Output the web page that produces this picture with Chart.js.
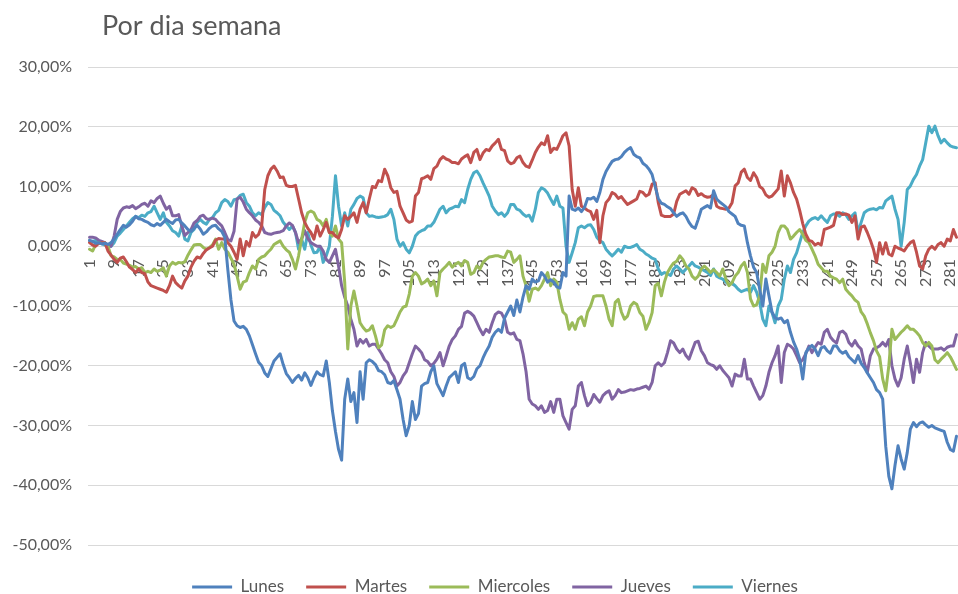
<!DOCTYPE html>
<html>
<head>
<meta charset="utf-8">
<script src="https://cdn.jsdelivr.net/npm/chart.js@4.4.0/dist/chart.umd.min.js"></script>
<style>
html,body{margin:0;padding:0;background:#ffffff;}
#wrap{width:958px;height:594px;position:relative;}
</style>
</head>
<body>
<div id="wrap"><canvas id="c" width="958" height="594"></canvas></div>
<script>
const titleText = 'Por dia semana';
const seriesNames = ['Lunes', 'Martes', 'Miercoles', 'Jueves', 'Viernes'];
const seriesColors = ['#4F81BD', '#C0504D', '#9BBB59', '#8064A2', '#4BACC6'];

const lunes = [
1.0, 0.8, 0.5, 0.6, 0.4, 0.5, 0.3, 0.6, 1.2, 2.0,
2.8, 3.5, 3.2, 3.6, 4.2, 5.0, 4.6, 4.5, 4.2, 4.0,
3.6, 3.4, 3.8, 3.5, 4.0, 4.5, 4.1, 3.8, 4.4, 4.5,
3.9, 3.4, 2.8, 2.5, 3.0, 3.5, 2.9, 2.0, 2.4, 3.0,
3.4, 3.5, 2.9, 2.5, 1.5, -4.0, -9.0, -12.5, -13.3, -13.6,
-13.4, -13.9, -15.0, -16.5, -18.0, -19.4, -20.0, -21.2, -21.8, -20.5,
-19.2, -18.6, -18.0, -19.8, -21.3, -22.0, -22.8, -22.1, -21.6, -22.4,
-21.2, -22.0, -23.3, -22.0, -21.0, -21.5, -21.7, -19.2, -22.8, -27.5,
-31.0, -34.0, -35.8, -25.6, -22.2, -26.0, -24.5, -29.5, -21.0, -25.6,
-19.5, -19.0, -19.3, -19.8, -20.8, -21.0, -21.5, -22.8, -23.0, -22.5,
-24.0, -25.6, -29.0, -31.7, -30.0, -26.0, -29.0, -28.0, -23.4, -23.0,
-22.8, -21.0, -20.0, -23.0, -24.0, -25.0, -23.4, -22.0, -21.5, -21.0,
-22.8, -20.0, -19.6, -22.0, -22.3, -21.8, -20.5, -20.0, -18.7, -17.6,
-16.7, -15.2, -14.4, -13.9, -14.4, -12.0, -11.0, -10.0, -11.6, -9.0,
-11.0, -8.5, -6.6, -7.2, -5.5, -6.0, -5.8, -4.4, -5.0, -6.0,
-5.6, -6.0, -6.8, -7.0, -4.4, -5.0, 8.4, 6.2, 6.0, 6.4,
5.8, 6.5, 8.0, 7.9, 8.2, 7.5, 9.0, 11.2, 12.5, 13.4,
14.2, 14.5, 14.6, 15.0, 15.7, 16.2, 16.5, 15.4, 15.0, 14.8,
13.9, 13.5, 12.9, 12.0, 10.0, 8.0, 7.2, 7.0, 6.6, 6.3,
5.6, 5.0, 5.4, 5.6, 5.0, 4.0, 3.3, 3.0, 4.5, 6.2,
6.5, 6.8, 6.4, 9.3, 7.9, 7.4, 7.0, 6.6, 5.8, 5.4,
5.0, 3.8, 3.5, 3.4, 0.6, -1.6, -3.5, -4.4, -7.2, -10.0,
-5.5, -8.3, -11.0, -12.0, -12.2, -12.0, -12.8, -12.4, -14.4, -16.0,
-17.2, -18.9, -22.2, -17.8, -17.0, -16.6, -17.2, -18.3, -17.0, -16.8,
-17.5, -17.9, -16.7, -16.7, -17.5, -17.9, -17.6, -18.5, -19.0, -19.5,
-18.3, -19.6, -20.3, -21.2, -22.0, -22.8, -24.0, -24.5, -25.6, -33.5,
-38.5, -40.6, -36.7, -33.4, -35.6, -37.3, -34.5, -30.6, -29.5, -30.2,
-29.6, -29.4, -29.9, -30.3, -30.0, -30.4, -30.6, -30.8, -31.0, -32.8,
-34.0, -34.3, -31.8
];

const martes = [
0.6, 0.2, 0.0, 0.5, 0.6, 0.6, -0.8, -1.5, -2.2, -2.7,
-2.0, -1.8, -2.6, -3.5, -3.9, -4.4, -3.8, -4.4, -4.6, -6.0,
-6.6, -6.8, -7.0, -7.2, -7.4, -7.7, -6.6, -5.0, -6.1, -6.6,
-7.0, -5.8, -5.0, -3.5, -2.5, -1.8, -2.0, -1.2, -0.6, -0.3,
0.0, 1.0, 1.3, 1.2, 1.2, 0.6, 0.0, -1.0, -2.2, 1.2,
-1.6, 0.8, 0.0, 2.3, 1.5, 2.0, 3.4, 9.5, 11.8, 12.9,
13.4, 12.6, 11.5, 11.6, 10.2, 10.0, 10.0, 10.2, 7.9, 5.6,
4.0, 3.0, 2.3, 1.2, 3.4, 1.7, 2.8, 4.0, 2.3, 2.3,
1.7, 1.4, 2.8, 5.1, 4.5, 5.0, 5.6, 4.0, 6.2, 7.3,
5.6, 7.9, 10.0, 9.8, 11.0, 10.8, 12.9, 11.8, 9.8, 9.0,
9.2, 6.7, 5.6, 4.4, 4.0, 4.2, 8.4, 9.0, 11.3, 11.5,
11.8, 11.2, 13.0, 13.4, 14.5, 15.0, 14.6, 14.4, 14.0, 14.0,
13.8, 14.6, 15.0, 15.3, 14.0, 15.7, 16.2, 14.5, 15.6, 16.2,
16.0, 16.8, 17.3, 17.9, 16.2, 16.0, 14.3, 13.8, 14.0, 14.8,
15.1, 14.0, 13.4, 13.2, 14.4, 15.7, 16.6, 17.3, 17.0, 18.5,
15.7, 16.4, 16.2, 17.3, 18.5, 19.0, 16.8, 9.5, 6.7, 9.8,
6.7, 6.4, 6.0, 5.8, 4.5, 6.0, 0.6, 5.1, 7.3, 7.9,
9.0, 8.7, 8.0, 8.3, 7.6, 7.0, 7.3, 7.6, 7.9, 9.2,
9.0, 8.4, 8.7, 10.4, 10.6, 7.3, 5.2, 5.0, 5.0, 5.0,
5.4, 7.5, 8.7, 9.0, 9.3, 8.7, 9.8, 9.5, 8.5, 8.8,
8.4, 8.2, 8.3, 8.6, 6.7, 6.4, 6.3, 6.2, 6.4, 7.3,
10.1, 10.6, 12.4, 12.9, 11.5, 11.0, 12.3, 11.5, 10.0, 9.6,
8.6, 8.2, 8.4, 9.0, 9.6, 12.6, 8.4, 11.8, 10.6, 9.0,
7.9, 6.0, 3.8, 2.0, 1.0, 0.8, 0.2, 0.5, 0.2, 2.8,
3.0, 3.2, 3.5, 5.6, 5.6, 5.3, 5.4, 5.2, 4.0, 5.1,
1.2, 3.2, 3.4, 2.3, 1.0, -0.5, -2.7, 0.6, -1.3, 0.6,
-1.3, -1.6, 0.0, -0.3, -0.5, -0.8, 0.0, 0.6, 0.9, -1.0,
-3.3, -3.8, -1.6, -0.5, 0.0, -0.5, 0.3, 0.6, 0.0, 1.2,
0.9, 2.8, 1.5
];

const miercoles = [
-0.5, -0.8, 0.3, 0.6, 0.5, 0.6, 0.0, -1.6, -1.8, -2.2,
-2.2, -2.8, -3.0, -3.2, -3.5, -3.4, -3.8, -3.6, -4.4, -4.2,
-4.4, -3.8, -4.2, -4.0, -3.6, -5.0, -3.3, -2.7, -3.0, -2.7,
-2.8, -2.6, -1.5, -0.6, 0.2, 0.3, 0.3, -0.2, -0.5, -0.2,
0.2, 1.2, -0.5, 0.6, -0.5, -1.0, -2.0, -3.0, -5.0, -7.2,
-6.0, -5.8, -4.4, -3.3, -3.8, -2.2, -1.8, -1.6, -1.0, -0.5,
0.3, 0.6, 0.9, 0.0, -0.6, -1.0, -2.2, -3.8, -1.6, 1.2,
4.0, 5.6, 5.9, 5.6, 4.5, 4.2, 3.4, 4.5, 2.3, 1.7,
3.4, 1.2, 0.6, -6.0, -17.2, -10.0, -7.5, -10.0, -12.8, -13.6,
-14.2, -14.0, -13.3, -15.0, -17.0, -16.5, -14.0, -13.3, -13.6, -13.3,
-12.2, -11.0, -10.2, -10.0, -8.0, -5.0, -4.4, -5.0, -6.3, -6.0,
-5.5, -6.6, -5.8, -8.3, -4.4, -3.8, -3.3, -2.7, -3.5, -3.0,
-2.7, -3.3, -2.4, -2.7, -4.7, -4.4, -3.3, -3.8, -2.7, -2.2,
-1.8, -1.7, -1.6, -1.6, -1.8, -1.9, -0.8, -1.0, -2.7, -2.2,
-1.6, -5.0, -6.6, -9.2, -7.2, -7.0, -7.3, -6.6, -5.5, -4.4,
-6.6, -5.5, -6.0, -8.9, -11.0, -11.5, -13.9, -12.8, -13.9, -12.2,
-11.8, -13.3, -11.0, -10.0, -8.4, -8.3, -8.3, -8.3, -10.0, -12.2,
-13.3, -9.4, -8.9, -11.0, -12.2, -11.7, -10.0, -9.4, -9.7, -11.1,
-11.7, -13.9, -12.8, -11.1, -6.6, -6.2, -8.3, -6.0, -4.4, -3.5,
-2.8, -2.5, -1.6, -2.2, -3.3, -3.8, -5.0, -5.5, -5.0, -3.8,
-3.3, -3.8, -4.4, -3.9, -4.4, -5.0, -3.8, -5.5, -6.6, -6.1,
-5.0, -4.4, -3.3, -2.7, -4.4, -8.8, -10.0, -9.8, -8.3, -3.0,
-4.4, -1.6, -1.0, 0.0, 2.3, 3.4, 3.4, 2.8, 1.2, 1.7,
2.3, 2.8, 2.0, 1.0, 0.6, -0.5, -1.6, -3.0, -3.6, -4.2,
-4.2, -5.0, -5.3, -5.5, -6.1, -5.5, -7.2, -7.8, -8.3, -9.0,
-9.4, -11.0, -11.7, -13.0, -14.5, -15.8, -17.5, -18.5, -22.2, -24.2,
-20.0, -13.9, -15.6, -15.0, -14.4, -13.9, -13.3, -13.9, -13.9, -14.4,
-15.0, -16.1, -16.7, -16.1, -16.7, -19.0, -19.5, -18.9, -18.4, -17.8,
-18.5, -19.5, -20.6
];

const jueves = [
1.5, 1.5, 1.4, 1.0, 0.8, 0.6, 0.0, 0.0, 1.7, 4.5,
5.8, 6.4, 6.6, 6.5, 6.8, 6.3, 6.6, 7.0, 7.2, 6.7,
7.6, 7.3, 8.0, 8.4, 7.2, 6.2, 6.7, 5.1, 5.1, 5.3,
3.4, 1.8, 2.3, 2.8, 3.9, 4.3, 5.0, 5.2, 4.6, 4.5,
4.7, 4.5, 3.9, 3.4, 2.3, 1.1, 0.9, 2.5, 7.9, 8.2,
7.4, 6.2, 5.6, 5.1, 4.4, 4.0, 3.4, 2.3, 2.1, 2.0,
2.2, 2.3, 2.4, 2.6, 3.4, 3.9, 3.5, 2.3, 0.6, 1.2,
2.6, 1.3, 0.6, 0.3, 0.0, 0.0, -0.8, -2.2, -2.7, -1.6,
-0.5, -3.3, -6.6, -8.5, -10.0, -12.2, -13.9, -16.7, -15.6, -16.2,
-15.6, -16.7, -16.4, -16.4, -17.2, -18.0, -19.0, -19.5, -21.0, -21.8,
-23.4, -22.8, -21.7, -21.0, -19.5, -18.0, -16.7, -17.2, -17.8, -19.0,
-19.3, -20.0, -19.6, -18.9, -17.8, -20.0, -18.4, -16.7, -15.6, -15.0,
-13.9, -13.4, -11.2, -10.9, -11.2, -11.7, -12.8, -13.9, -14.8, -13.9,
-14.4, -12.8, -11.4, -11.0, -11.2, -12.2, -14.4, -14.7, -14.5, -15.6,
-15.8, -18.0, -21.0, -25.6, -26.4, -26.7, -27.3, -26.7, -27.8, -27.5,
-26.0, -27.8, -25.6, -25.6, -28.4, -29.5, -30.6, -27.3, -26.7, -23.4,
-22.8, -25.0, -26.7, -26.1, -24.8, -25.5, -26.1, -25.0, -24.5, -24.2,
-25.6, -25.0, -24.0, -24.5, -24.4, -24.2, -24.0, -24.1, -23.9, -23.8,
-23.6, -23.4, -23.9, -22.8, -20.0, -19.5, -20.0, -19.5, -17.8, -15.8,
-16.2, -17.2, -17.8, -17.2, -18.3, -18.9, -17.5, -16.1, -15.9, -17.5,
-18.3, -19.5, -19.8, -20.0, -20.6, -20.0, -20.8, -21.4, -22.0, -23.4,
-21.4, -21.7, -21.7, -18.9, -22.2, -22.2, -23.4, -24.5, -25.6, -25.0,
-23.4, -21.1, -19.5, -18.3, -16.7, -22.8, -17.8, -16.4, -16.7, -17.2,
-18.3, -19.5, -19.0, -18.0, -16.7, -17.8, -16.9, -16.1, -16.4, -14.4,
-13.9, -15.2, -15.8, -16.2, -14.4, -14.2, -14.7, -16.1, -16.7, -15.8,
-16.7, -17.2, -19.5, -21.1, -18.3, -17.2, -17.0, -16.7, -16.1, -16.7,
-15.6, -20.0, -22.2, -23.4, -22.0, -18.9, -16.7, -19.5, -22.8, -18.9,
-21.1, -17.8, -16.1, -16.7, -17.2, -17.2, -17.2, -17.0, -17.4, -16.9,
-16.7, -16.7, -14.8
];

const viernes = [
0.9, 0.8, 1.0, 0.6, 0.4, 0.2, 0.3, 0.0, 0.6, 1.7,
2.2, 2.8, 3.4, 4.0, 4.6, 5.0, 4.8, 5.2, 5.0, 5.6,
5.8, 6.7, 5.6, 4.5, 5.6, 4.0, 3.4, 2.6, 2.3, 1.7,
3.4, 1.2, 0.9, 2.3, 2.8, 4.0, 4.5, 4.0, 3.7, 4.5,
4.8, 5.6, 6.0, 7.3, 7.8, 7.5, 6.7, 7.8, 7.9, 8.5,
8.7, 7.3, 6.7, 5.6, 5.1, 5.6, 5.3, 6.5, 7.3, 7.0,
6.0, 5.6, 5.1, 4.0, 3.4, 2.8, 3.4, 2.3, -0.5, 1.2,
-0.5, 2.3, 0.2, -1.1, -1.0, 0.0, -2.7, -1.6, 0.0, 5.0,
11.8, 6.7, 3.4, 5.6, 3.4, 6.2, 7.0, 8.0, 8.4, 8.1,
5.6, 5.0, 5.1, 4.9, 4.8, 4.9, 5.0, 5.3, 6.2, 4.5,
1.2, 0.0, 0.6, -0.5, -1.1, 0.0, 1.7, 2.3, 2.6, 2.8,
3.4, 3.4, 4.0, 5.1, 6.2, 6.7, 5.6, 6.2, 6.4, 6.7,
6.6, 7.8, 7.3, 9.5, 11.2, 12.3, 12.6, 11.8, 10.6, 9.5,
8.4, 6.7, 5.9, 5.3, 5.6, 5.0, 5.6, 7.0, 7.0, 6.2,
6.0, 5.4, 5.0, 5.2, 4.2, 6.2, 9.0, 9.8, 9.5, 8.9,
7.9, 7.0, 8.4, 6.7, 6.4, 0.0, -2.7, -1.1, 0.6, 3.1,
3.4, 3.1, 3.5, 3.6, 2.8, 1.5, 0.9, 0.6, -0.5, -1.1,
-1.6, -1.1, -0.5, -1.0, 0.0, -0.2, -0.2, 0.0, 0.3, -0.5,
-0.8, -1.3, -1.6, -2.0, -2.2, -3.8, -4.7, -4.4, -4.6, -4.9,
-3.8, -3.3, -3.8, -4.4, -3.8, -3.3, -2.7, -3.3, -3.5, -3.8,
-4.1, -4.4, -4.9, -3.8, -5.0, -5.3, -5.5, -6.0, -6.4, -6.2,
-6.6, -7.2, -7.6, -7.4, -7.2, -7.7, -6.6, -7.7, -9.4, -12.2,
-13.3, -10.0, -11.1, -12.8, -10.0, -8.9, -5.5, -3.3, -4.4, -2.2,
-1.1, 0.6, 2.3, 3.4, 4.2, 4.6, 4.8, 4.5, 5.1, 4.5,
4.0, 5.1, 5.4, 5.4, 5.0, 5.6, 5.3, 4.5, 5.1, 5.6,
2.3, 4.0, 5.6, 6.0, 6.2, 6.3, 6.1, 6.5, 6.4, 7.6,
8.0, 8.4, 6.2, 4.5, 0.0, 4.0, 9.5, 10.1, 11.2, 12.0,
13.4, 14.5, 17.3, 20.1, 19.0, 20.1, 18.5, 17.3, 17.9, 17.3,
16.8, 16.6, 16.5
];

const seriesValues = [lunes, martes, miercoles, jueves, viernes];
const categories = lunes.map((_, i) => String(i + 1));
const tickEvery = 8;
const yMin = -50, yMax = 30, yStep = 10;

const FONT = 'Lato';
const TEXT = '#595959';
const GRID = '#d9d9d9';

const leftTitle = {
  id: 'leftTitle',
  afterDraw(chart) {
    const ctx = chart.ctx;
    ctx.save();
    ctx.font = '27px ' + FONT;
    ctx.fillStyle = TEXT;
    ctx.textAlign = 'left';
    ctx.textBaseline = 'alphabetic';
    ctx.fillText(titleText, 102, 35);
    ctx.restore();
  }
};

new Chart(document.getElementById('c'), {
  type: 'line',
  data: {
    labels: categories,
    datasets: seriesNames.map((name, k) => ({
      label: name,
      data: seriesValues[k],
      borderColor: seriesColors[k],
      backgroundColor: seriesColors[k],
      borderWidth: 3,
      pointRadius: 0,
      pointHoverRadius: 0,
      tension: 0,
      borderJoinStyle: 'round',
      borderCapStyle: 'round',
      fill: false
    }))
  },
  options: {
    responsive: false,
    animation: false,
    devicePixelRatio: 1,
    layout: { padding: { left: 32, top: 67, right: 0, bottom: -11.5 } },
    plugins: {
      legend: {
        position: 'bottom',
        align: 'center',
        title: { display: true, text: '', font: { size: 1, lineHeight: 1 }, padding: { top: 10.5, bottom: 0 } },
        labels: {
          usePointStyle: true,
          pointStyle: 'line',
          pointStyleWidth: 40,
          padding: 22,
          color: TEXT,
          font: { family: FONT, size: 17 }
        }
      },
      title: { display: false },
      tooltip: { enabled: false }
    },
    scales: {
      x: {
        type: 'category',
        offset: true,
        position: { y: 0 },
        z: 1,
        grid: { display: false, drawTicks: false },
        border: { display: true, color: GRID, width: 1 },
        ticks: {
          autoSkip: false,
          minRotation: 90,
          maxRotation: 90,
          padding: 13,
          color: TEXT,
          font: { family: FONT, size: 16 },
          callback: function (v, i) { return i % tickEvery === 0 ? categories[i] : ''; }
        },
        afterFit: function (s) { s.height = 0; s.paddingLeft = 0; s.paddingRight = 0; }
      },
      y: {
        min: yMin,
        max: yMax,
        grid: { color: GRID, lineWidth: 1, drawTicks: false },
        border: { display: false },
        ticks: {
          stepSize: yStep,
          padding: 16,
          color: TEXT,
          font: { family: FONT, size: 16 },
          callback: function (v) { return v.toFixed(2).replace('.', ',') + '%'; }
        },
        afterFit: function (s) {
          s.width = 56;
          s._computeLabelArea = function () { return undefined; };
        }
      }
    }
  },
  plugins: [leftTitle]
});
</script>
</body>
</html>
